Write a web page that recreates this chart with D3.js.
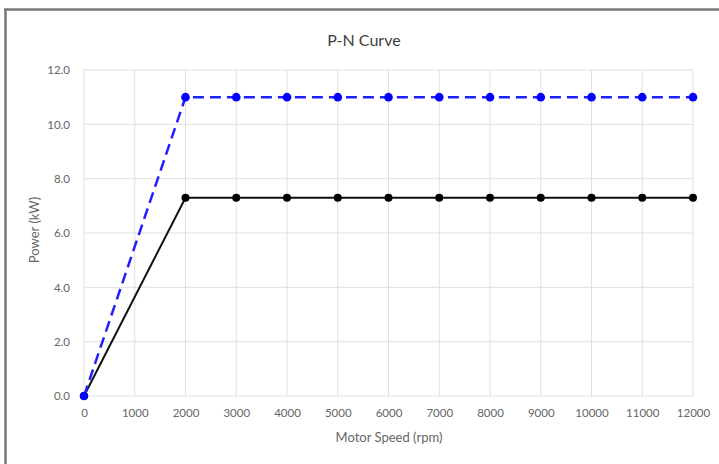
<!DOCTYPE html>
<html><head><meta charset="utf-8">
<script src="https://cdn.jsdelivr.net/npm/d3@7"></script>
<style>
html,body{margin:0;padding:0;background:#fff;}
svg{display:block;}
text{font-family:"Lato","Liberation Sans",sans-serif;}
</style></head><body>
<svg id="c" width="719" height="464"></svg>
<script>
const speeds = [0,2000,3000,4000,5000,6000,7000,8000,9000,10000,11000,12000];
const blueSeries = [0,11,11,11,11,11,11,11,11,11,11,11];
const blackSeries = [0,7.3,7.3,7.3,7.3,7.3,7.3,7.3,7.3,7.3,7.3,7.3];
const xTicks = [0,1000,2000,3000,4000,5000,6000,7000,8000,9000,10000,11000,12000];
const yTicks = [0,2,4,6,8,10,12];
const title = "P-N Curve";
const xTitle = "Motor Speed (rpm)";
const yTitle = "Power (kW)";

const svg = d3.select("#c");
const W=719,H=464;
const m={l:84,r:W-693,t:70,b:H-396};
const x=d3.scaleLinear().domain([0,12000]).range([m.l,W-m.r]);
const y=d3.scaleLinear().domain([0,12]).range([H-m.b,m.t]);

// frame lines
svg.append("line").attr("x1",4).attr("x2",W).attr("y1",9.5).attr("y2",9.5).attr("stroke","#777").attr("stroke-width",2.5);
svg.append("line").attr("x1",5.5).attr("x2",5.5).attr("y1",9).attr("y2",H).attr("stroke","#777").attr("stroke-width",2.5);

// gridlines
const g=svg.append("g");
g.selectAll(".vg").data(xTicks).join("line")
 .attr("x1",d=>x(d)).attr("x2",d=>x(d)).attr("y1",y(12)).attr("y2",y(0))
 .attr("stroke","#e0e0e0").attr("stroke-width",1);
g.selectAll(".hg").data(yTicks).join("line")
 .attr("x1",x(0)).attr("x2",x(12000)).attr("y1",d=>y(d)).attr("y2",d=>y(d))
 .attr("stroke","#e0e0e0").attr("stroke-width",1);

// axes labels
const xa=d3.axisBottom(x).tickValues(xTicks).tickSize(0).tickPadding(13).tickFormat(d3.format("d"));
svg.append("g").attr("transform",`translate(0,${y(0)})`).call(xa)
 .call(s=>s.select(".domain").remove())
 .selectAll("text").attr("fill","#666").attr("font-size",11.5).attr("font-family","Lato, Liberation Sans, sans-serif");
const ya=d3.axisLeft(y).tickValues(yTicks).tickSize(0).tickPadding(14).tickFormat(d3.format(".1f"));
svg.append("g").attr("transform",`translate(${x(0)},0)`).call(ya)
 .call(s=>s.select(".domain").remove())
 .selectAll("text").attr("fill","#666").attr("font-size",11.5).attr("font-family","Lato, Liberation Sans, sans-serif");

// titles
svg.append("text").attr("x",364).attr("y",46).attr("text-anchor","middle").attr("font-size",16).attr("fill","#404040").text(title);
svg.append("text").attr("x",389).attr("y",442).attr("text-anchor","middle").attr("font-size",13).attr("fill","#666").text(xTitle);
svg.append("text").attr("transform",`translate(39,230) rotate(-90)`).attr("text-anchor","middle").attr("font-size",13).attr("fill","#666").text(yTitle);

const line=d3.line().x(d=>x(d[0])).y(d=>y(d[1]));
const blackData=speeds.map((s,i)=>[s,blackSeries[i]]);
const blueData=speeds.map((s,i)=>[s,blueSeries[i]]);

svg.append("path").datum(blackData).attr("d",line).attr("fill","none").attr("stroke","#111").attr("stroke-width",2);
svg.selectAll(".bk").data(blackData).join("circle").attr("cx",d=>x(d[0])).attr("cy",d=>y(d[1])).attr("r",4).attr("fill","#000");

svg.append("path").datum(blueData).attr("d",line).attr("fill","none").attr("stroke","#2020ff").attr("stroke-width",2.5).attr("stroke-dasharray","11,6");
svg.selectAll(".bl").data(blueData).join("circle").attr("cx",d=>x(d[0])).attr("cy",d=>y(d[1])).attr("r",4.3).attr("fill","#0000ff");
</script>
</body></html>
